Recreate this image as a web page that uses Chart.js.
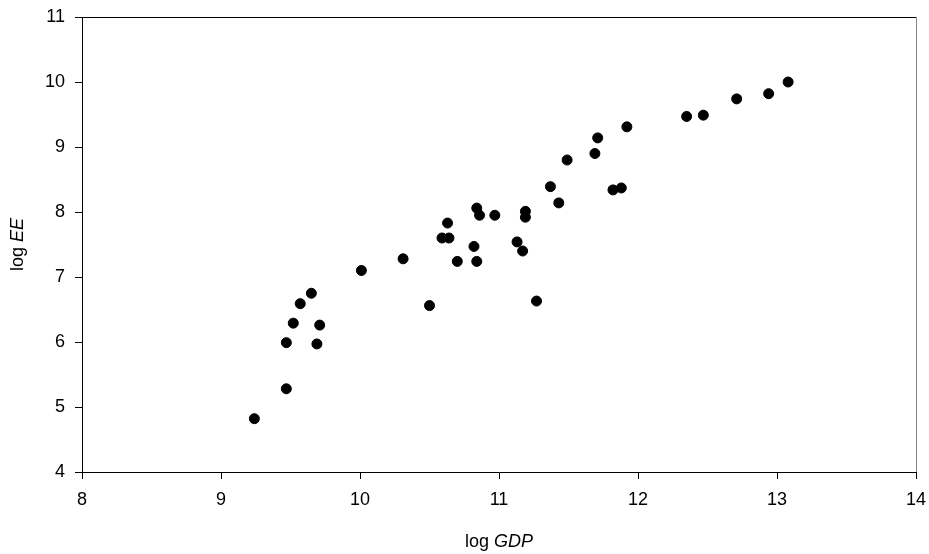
<!DOCTYPE html>
<html>
<head>
<meta charset="utf-8">
<script src="https://cdn.jsdelivr.net/npm/chart.js@4.4.1/dist/chart.umd.min.js"></script>
<style>
  html, body { margin: 0; padding: 0; background: #fff; }
  #wrap { width: 929px; height: 554px; }
</style>
</head>
<body>
<div id="wrap"><canvas id="myChart" width="929" height="554"></canvas></div>
<script>
// log GDP (x) and log EE (y)
const logGDP = [
    9.24, 9.47, 9.47, 9.52, 9.57, 9.65, 9.69, 9.71, 10.01,
    10.31, 10.50, 10.59, 10.63, 10.64, 10.70, 10.82, 10.84, 10.84, 10.86, 10.97,
    11.13, 11.17, 11.19, 11.19, 11.27, 11.37, 11.43, 11.49,
    11.69, 11.71, 11.82, 11.88, 11.92,
    12.35, 12.47, 12.71, 12.94, 13.08
];
const logEE = [
    4.82, 5.28, 5.99, 6.29, 6.59, 6.75, 5.97, 6.26, 7.10,
    7.28, 6.56, 7.60, 7.83, 7.60, 7.24, 7.47, 8.06, 7.24, 7.95, 7.95,
    7.54, 7.40, 8.01, 7.92, 6.63, 8.39, 8.14, 8.80,
    8.90, 9.14, 8.34, 8.37, 9.31,
    9.47, 9.49, 9.74, 9.82, 10.00
];
const xTicks = [8, 9, 10, 11, 12, 13, 14];
const yTicks = [4, 5, 6, 7, 8, 9, 10, 11];

const points = logGDP.map((x, i) => ({ x: x, y: logEE[i] }));
const fontFamily = 'Arial, "Liberation Sans", sans-serif';

// box around plot + axis titles with italic part
const framePlugin = {
    id: 'frame',
    afterDraw(chart) {
        const ctx = chart.ctx;
        const a = chart.chartArea;
        ctx.save();
        ctx.lineWidth = 1;
        ctx.strokeStyle = '#000';
        ctx.beginPath();
        ctx.moveTo(a.left, a.top + 0.5);
        ctx.lineTo(a.right, a.top + 0.5);
        ctx.stroke();
        ctx.strokeStyle = '#888';
        ctx.beginPath();
        ctx.moveTo(a.right + 0.5, a.top);
        ctx.lineTo(a.right + 0.5, a.bottom);
        ctx.stroke();

        ctx.fillStyle = '#000';
        ctx.textBaseline = 'middle';
        drawTitle(ctx, 'log ', 'GDP', (a.left + a.right) / 2, 542, 0);
        drawTitle(ctx, 'log ', 'EE', 18, (a.top + a.bottom) / 2, -Math.PI / 2);
        ctx.restore();
    }
};

function drawTitle(ctx, plain, italic, cx, cy, angle) {
    const normalFont = '18px ' + fontFamily;
    const italicFont = 'italic 18px ' + fontFamily;
    ctx.font = normalFont;
    const w1 = ctx.measureText(plain).width;
    ctx.font = italicFont;
    const w2 = ctx.measureText(italic).width;
    ctx.save();
    ctx.translate(cx, cy);
    ctx.rotate(angle);
    ctx.textAlign = 'left';
    ctx.font = normalFont;
    ctx.fillText(plain, -(w1 + w2) / 2, 0);
    ctx.font = italicFont;
    ctx.fillText(italic, -(w1 + w2) / 2 + w1, 0);
    ctx.restore();
}

const ctx = document.getElementById('myChart').getContext('2d');
new Chart(ctx, {
    type: 'scatter',
    data: {
        datasets: [{
            label: 'log EE',
            data: points,
            backgroundColor: '#000',
            borderColor: '#000',
            pointRadius: 5,
            pointHoverRadius: 5
        }]
    },
    options: {
        responsive: false,
        animation: false,
        layout: {
            padding: { left: 0, right: 13, top: 17, bottom: 0 }
        },
        plugins: {
            legend: { display: false },
            tooltip: { enabled: false }
        },
        scales: {
            x: {
                type: 'linear',
                min: 8,
                max: 14,
                afterBuildTicks: (scale) => { scale.ticks = xTicks.map(v => ({ value: v })); },
                afterFit: (scale) => {
                    scale.height = 82;
                    scale.paddingLeft = 0;
                    scale.paddingRight = 0;
                },
                grid: { drawOnChartArea: false, drawTicks: true, tickLength: 7, tickColor: '#000' },
                border: { display: true, color: '#000', width: 1 },
                ticks: { color: '#000', padding: 10, maxRotation: 0, font: { family: fontFamily, size: 18 } }
            },
            y: {
                type: 'linear',
                min: 4,
                max: 11,
                afterBuildTicks: (scale) => { scale.ticks = yTicks.map(v => ({ value: v })); },
                afterFit: (scale) => {
                    scale.width = 82;
                    scale.paddingTop = 0;
                    scale.paddingBottom = 0;
                },
                grid: { drawOnChartArea: false, drawTicks: true, tickLength: 7, tickColor: '#000' },
                border: { display: true, color: '#000', width: 1 },
                ticks: { color: '#000', padding: 10, font: { family: fontFamily, size: 18 } }
            }
        }
    },
    plugins: [framePlugin]
});
</script>
</body>
</html>
